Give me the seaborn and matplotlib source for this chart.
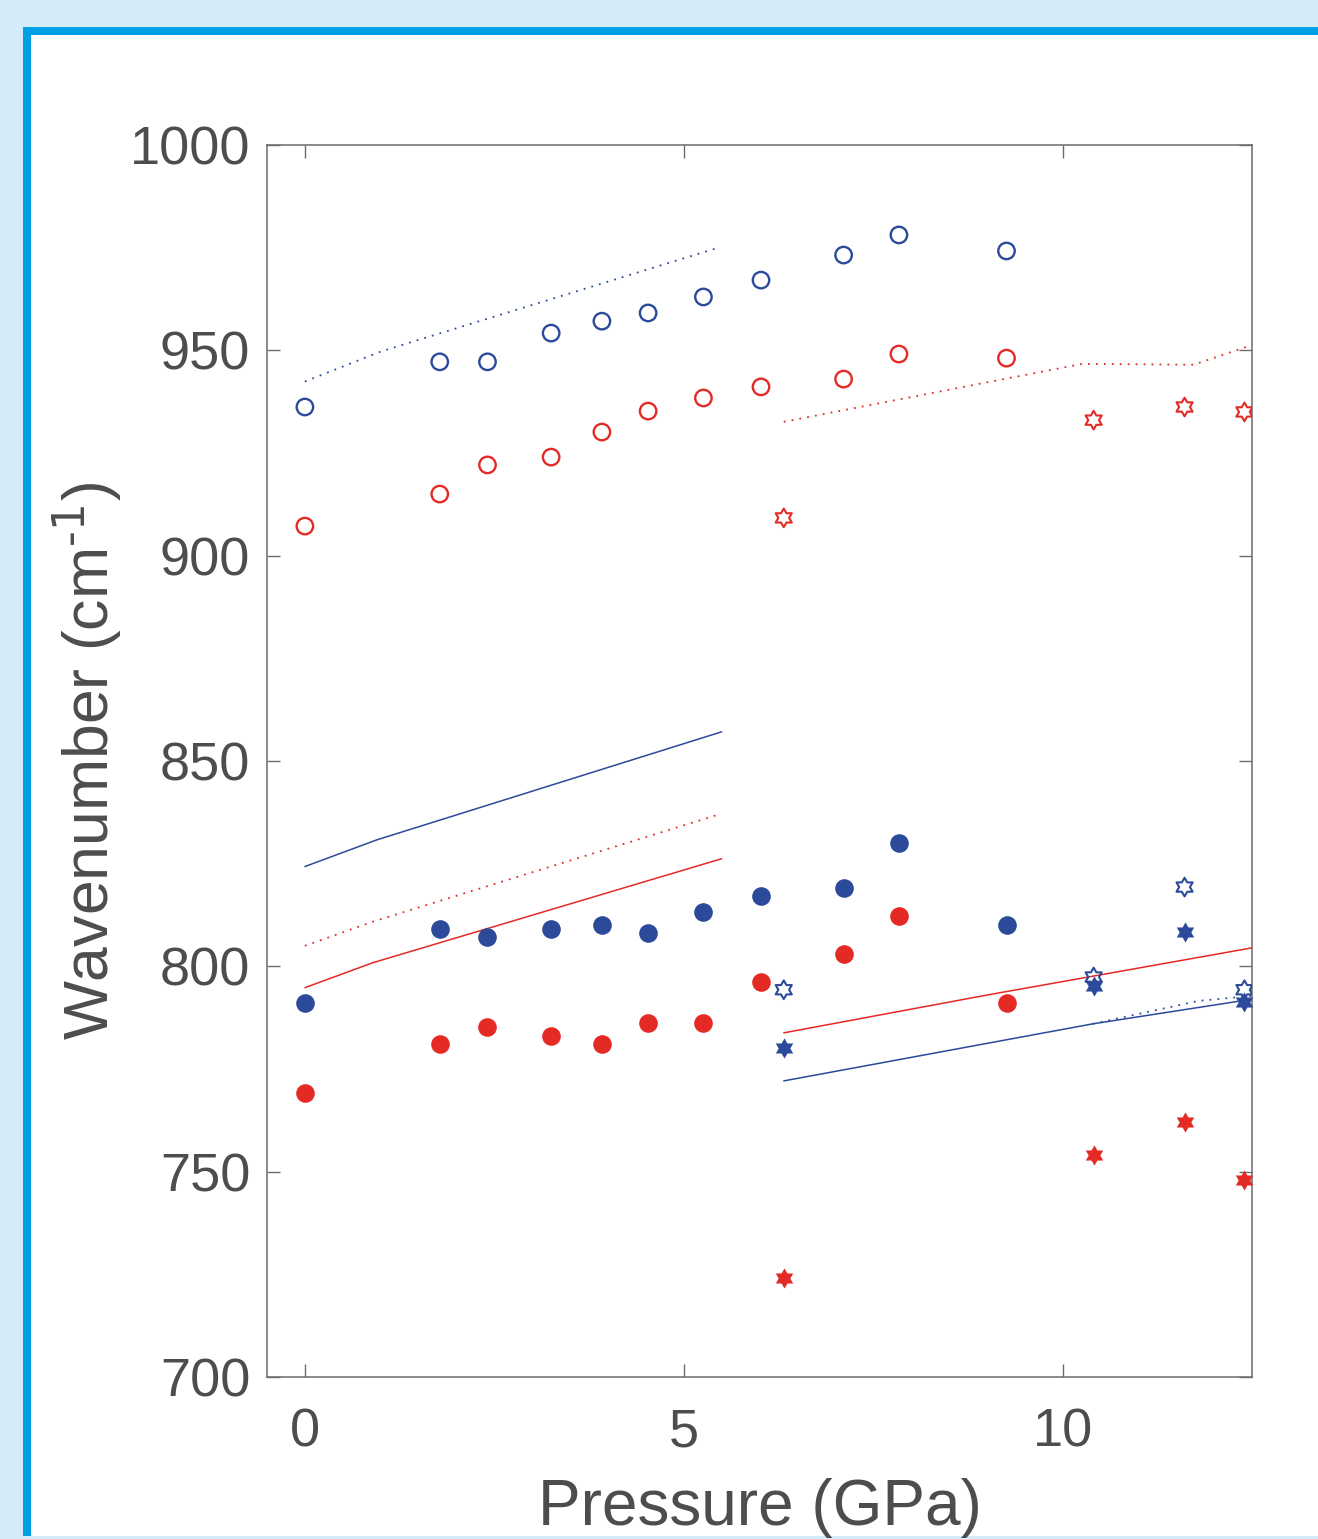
import numpy as np
import pandas as pd
import matplotlib
matplotlib.use("Agg")
import matplotlib.pyplot as plt
from matplotlib.patches import Rectangle
from matplotlib.path import Path
import seaborn as sns

# ---------------- data ----------------
pressure_circles = [0, 1.78, 2.41, 3.25, 3.92, 4.53, 5.26, 6.02, 7.11, 7.84, 9.26]
blue_open_circles = [936.2, 947.2, 947.2, 954.2, 957.1, 959.1, 963.0, 967.1, 973.2, 978.1, 974.2]
red_open_circles = [907.2, 915.0, 922.1, 924.0, 930.1, 935.2, 938.4, 941.1, 943.0, 949.1, 948.1]
blue_filled_circles = [791.1, 809.1, 807.2, 809.1, 810.1, 808.1, 813.2, 817.1, 819.1, 830.0, 810.1]
red_filled_circles = [769.2, 781.1, 785.2, 783.1, 781.1, 786.2, 786.2, 796.2, 803.0, 812.3, 791.1]

pressure_stars = [6.32, 10.41, 11.61, 12.40]
red_open_stars = [909.2, 933.0, 936.2, 935.0]
blue_open_stars = [794.3, 797.4, 819.3, 794.3]
blue_filled_stars = [780.1, 795.2, 808.4, 791.3]
red_filled_stars = [724.1, 754.1, 762.1, 748.0]

# calculated curves
blue_dot_hi_x = [0, 1.0, 5.44]
blue_dot_hi_y = [942.4, 949.7, 974.9]
blue_solid_lo_x = [0, 0.95, 5.5]
blue_solid_lo_y = [824.3, 830.8, 857.1]
red_dot_lo_x = [0, 0.9, 5.45]
red_dot_lo_y = [805.0, 810.9, 836.9]
red_solid_lo_x = [0, 0.9, 5.5]
red_solid_lo_y = [794.8, 800.9, 826.2]

red_dot_hi_r_x = [6.32, 10.26, 11.73, 12.5]
red_dot_hi_r_y = [932.6, 946.7, 946.5, 951.3]
red_solid_r_x = [6.32, 9.0, 12.5]
red_solid_r_y = [783.8, 793.0, 804.5]
blue_solid_r_x = [6.32, 10.4, 12.5]
blue_solid_r_y = [772.1, 786.0, 792.0]
blue_dot_r_x = [10.4, 11.8, 12.5]
blue_dot_r_y = [786.0, 791.6, 792.8]

x_ticks = [0, 5, 10]
y_ticks = [700, 750, 800, 850, 900, 950, 1000]

# ---------------- style ----------------
BLUE = "#2C4A9A"
RED = "#E42A25"
GREY = "#4D4D4D"
SPINE = "#6B6B6B"

sns.set_style("ticks")
plt.rcParams["font.family"] = ["Liberation Sans", "DejaVu Sans"]
plt.rcParams["mathtext.default"] = "regular"

W, H = 1318, 1539
fig = plt.figure(figsize=(W / 100, H / 100), dpi=100, facecolor="#D4EBFA")


def px_rect(x0, y0, x1, y1, color):
    fig.add_artist(Rectangle((x0 / W, 1 - y1 / H), (x1 - x0) / W, (y1 - y0) / H,
                             transform=fig.transFigure, facecolor=color,
                             edgecolor="none", zorder=-5))


px_rect(23, 27, W + 5, 1536, "#00A0E6")
px_rect(31, 35, W + 5, 1536, "white")

ax = fig.add_axes([267 / W, 1 - 1377 / H, (1252 - 267) / W, (1377 - 145) / H])
ax.set_facecolor("white")

hexagram = Path.unit_regular_star(6, innerCircle=1 / np.sqrt(3))
dotted = (0, (1, 3.4))

# lines
for xs, ys, col, ls in [
    (blue_dot_hi_x, blue_dot_hi_y, BLUE, dotted),
    (blue_solid_lo_x, blue_solid_lo_y, BLUE, "-"),
    (red_dot_lo_x, red_dot_lo_y, RED, dotted),
    (red_solid_lo_x, red_solid_lo_y, RED, "-"),
    (red_dot_hi_r_x, red_dot_hi_r_y, RED, dotted),
    (red_solid_r_x, red_solid_r_y, RED, "-"),
    (blue_solid_r_x, blue_solid_r_y, BLUE, "-"),
    (blue_dot_r_x, blue_dot_r_y, BLUE, dotted),
]:
    sns.lineplot(x=xs, y=ys, ax=ax, color=col, linewidth=1.3 if ls is dotted else 1.1,
                 linestyle=ls, estimator=None, sort=False)

# circles
for ys, col in [(blue_open_circles, BLUE), (red_open_circles, RED)]:
    sns.scatterplot(x=pressure_circles, y=ys, ax=ax, marker="o", s=140,
                    facecolor="none", edgecolor=col, linewidth=1.7, zorder=3)
for ys, col in [(blue_filled_circles, BLUE), (red_filled_circles, RED)]:
    sns.scatterplot(x=pressure_circles, y=ys, ax=ax, marker="o", s=180,
                    color=col, edgecolor=col, linewidth=0, zorder=3)

# stars
for ys, col in [(red_open_stars, RED), (blue_open_stars, BLUE)]:
    sns.scatterplot(x=pressure_stars, y=ys, ax=ax, marker=hexagram, s=180,
                    facecolor="none", edgecolor=col, linewidth=1.5, zorder=3)
for ys, col in [(blue_filled_stars, BLUE), (red_filled_stars, RED)]:
    sns.scatterplot(x=pressure_stars, y=ys, ax=ax, marker=hexagram, s=210,
                    color=col, edgecolor=col, linewidth=0, zorder=3)

ax.set_xlim(-0.5, 12.5)
ax.set_ylim(700, 1000)
ax.set_xticks(x_ticks)
ax.set_yticks(y_ticks)

for sp in ax.spines.values():
    sp.set_visible(True)
    sp.set_color(SPINE)
    sp.set_linewidth(1.1)

ax.tick_params(axis="both", which="major", direction="in", top=True, right=True,
               length=9.5, width=1.0, color=SPINE, labelcolor=GREY, labelsize=39)
ax.tick_params(axis="x", pad=22)
ax.tick_params(axis="y", pad=12)

ax.set_xlabel("Pressure (GPa)", fontsize=46, color=GREY, labelpad=15)
ax.set_ylabel(r"Wavenumber (cm$^{\text{-1}}$)", fontsize=45, color=GREY, labelpad=4)

fig.savefig("out.png", dpi=100, facecolor=fig.get_facecolor())
